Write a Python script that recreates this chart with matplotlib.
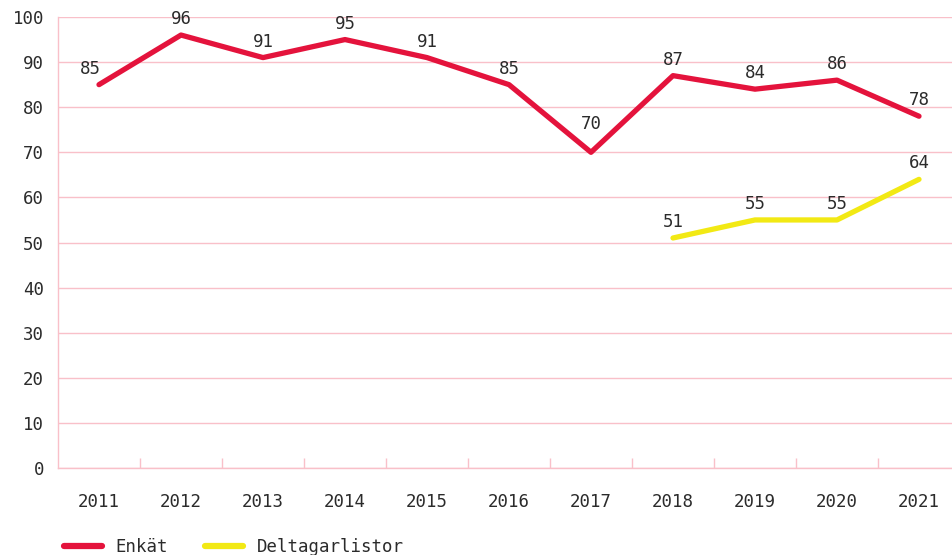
import matplotlib.pyplot as plt
import numpy as np

# --- data ---
years = ["2011", "2012", "2013", "2014", "2015", "2016",
         "2017", "2018", "2019", "2020", "2021"]
enkat = [85, 96, 91, 95, 91, 85, 70, 87, 84, 86, 78]
deltagar_years = ["2018", "2019", "2020", "2021"]
deltagar = [51, 55, 55, 64]

rod = "#e4133c"
gul = "#f2e914"
rosa = "#f9c0c9"
textfarg = "#2b2b2b"
fs = 12.5

# etiketter som flyttas lite (punkter) så de inte krockar med linjen
extra_forskjutning = {"2011": (-6, 0), "2017": (0, 9)}

plt.rcParams['font.family'] = ['DejaVu Sans Mono']
plt.rcParams['font.size'] = fs

fig = plt.figure(figsize=(9.52, 5.55), dpi=100)
# axes i pixlar: vänster 58, höger 952, topp 17, botten 468
ax = fig.add_axes([58 / 952, (555 - 468) / 555, (952 - 58) / 952, (468 - 17) / 555])

x = np.arange(len(years))
xd = np.array([years.index(y) for y in deltagar_years])

ax.plot(x, enkat, color=rod, lw=3.8, solid_capstyle='round', label="Enkät", zorder=3)
ax.plot(xd, deltagar, color=gul, lw=3.8, solid_capstyle='round', label="Deltagarlistor", zorder=3)

for xi, ar, v in zip(x, years, enkat):
    dx, dy = extra_forskjutning.get(ar, (0, 0))
    ax.annotate(str(v), (xi, v), xytext=(dx, 5 + dy), textcoords='offset points',
                ha='center', va='bottom', color=textfarg, fontsize=fs)
for xi, v in zip(xd, deltagar):
    ax.annotate(str(v), (xi, v), xytext=(0, 5), textcoords='offset points',
                ha='center', va='bottom', color=textfarg, fontsize=fs)

ax.set_ylim(0, 100)
ax.set_yticks(range(0, 101, 10))
ax.set_xlim(-0.5, (952 - 58) / 82 - 0.5)
ax.set_xticks(x)
ax.set_xticklabels(years)
ax.set_xticks(np.arange(0.5, len(years) - 0.5, 1), minor=True)

ax.grid(axis='y', color=rosa, lw=1)
ax.set_axisbelow(True)
for s in ['top', 'right']:
    ax.spines[s].set_visible(False)
for s in ['left', 'bottom']:
    ax.spines[s].set_color(rosa)
    ax.spines[s].set_linewidth(1)

ax.tick_params(axis='y', length=0, pad=10, colors=textfarg, labelsize=fs)
ax.tick_params(axis='x', which='major', length=0, pad=18, colors=textfarg, labelsize=fs)
ax.tick_params(axis='x', which='minor', direction='in', length=7.5, color=rosa, width=1)

leg = fig.legend(loc='lower left', bbox_to_anchor=(48 / 952, -17 / 555), ncol=2,
                 frameon=False, handlelength=2.2, handletextpad=0.8,
                 columnspacing=2.1, fontsize=fs)
for h in leg.get_lines():
    h.set_linewidth(4.5)
    h.set_solid_capstyle('round')
for t in leg.get_texts():
    t.set_color(textfarg)

plt.savefig("out.png", dpi=100)
